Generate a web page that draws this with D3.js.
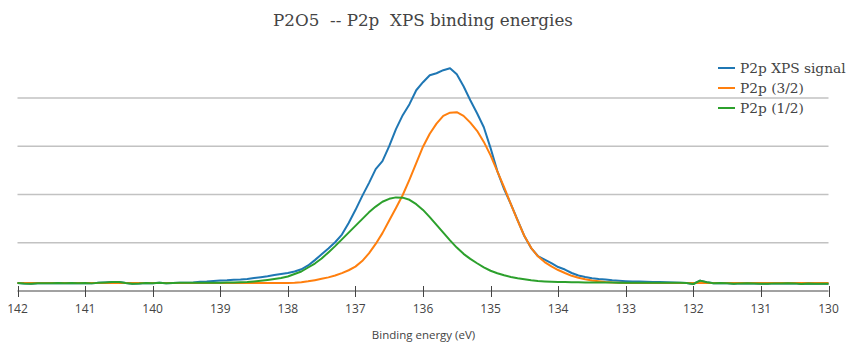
<!DOCTYPE html>
<html>
<head>
<meta charset="utf-8">
<script src="https://cdn.jsdelivr.net/npm/d3@7"></script>
<style>
  html, body { margin: 0; padding: 0; background: #fff; }
  svg { display: block; }
</style>
</head>
<body>
<svg id="chart" width="846" height="343"></svg>
<script>
// ---------------- data ----------------
const energies = [
  142.0,141.9,141.8,141.7,141.6,141.5,141.4,141.3,141.2,141.1,
  141.0,140.9,140.8,140.7,140.6,140.5,140.4,140.3,140.2,140.1,
  140.0,139.9,139.8,139.7,139.6,139.5,139.4,139.3,139.2,139.1,
  139.0,138.9,138.8,138.7,138.6,138.5,138.4,138.3,138.2,138.1,
  138.0,137.9,137.8,137.7,137.6,137.5,137.4,137.3,137.2,137.1,
  137.0,136.9,136.8,136.7,136.6,136.5,136.4,136.3,136.2,136.1,
  136.0,135.9,135.8,135.7,135.6,135.5,135.4,135.3,135.2,135.1,
  135.0,134.9,134.8,134.7,134.6,134.5,134.4,134.3,134.2,134.1,
  134.0,133.9,133.8,133.7,133.6,133.5,133.4,133.3,133.2,133.1,
  133.0,132.9,132.8,132.7,132.6,132.5,132.4,132.3,132.2,132.1,
  132.0,131.9,131.8,131.7,131.6,131.5,131.4,131.3,131.2,131.1,
  131.0,130.9,130.8,130.7,130.6,130.5,130.4,130.3,130.2,130.1,
  130.0
];

const signal = [
  0.165,0.155,0.150,0.160,0.162,0.160,0.165,0.162,0.168,0.160,
  0.165,0.158,0.170,0.178,0.185,0.188,0.165,0.150,0.155,0.165,
  0.162,0.170,0.160,0.165,0.170,0.172,0.178,0.190,0.195,0.205,
  0.217,0.221,0.232,0.238,0.248,0.269,0.286,0.306,0.331,0.352,
  0.373,0.404,0.450,0.530,0.640,0.760,0.880,1.010,1.170,1.410,
  1.677,1.967,2.236,2.526,2.692,3.002,3.354,3.644,3.872,4.161,
  4.327,4.472,4.513,4.576,4.617,4.493,4.244,3.954,3.685,3.395,
  2.961,2.484,2.112,1.801,1.470,1.139,0.890,0.725,0.652,0.580,
  0.497,0.445,0.373,0.321,0.290,0.263,0.248,0.238,0.222,0.211,
  0.203,0.198,0.195,0.190,0.188,0.186,0.182,0.178,0.170,0.165,
  0.145,0.215,0.180,0.160,0.165,0.160,0.148,0.158,0.162,0.155,
  0.150,0.148,0.158,0.155,0.162,0.158,0.145,0.155,0.152,0.150,
  0.148
];

const p32 = [
  0.165,0.165,0.165,0.165,0.165,0.165,0.165,0.165,0.165,0.165,
  0.165,0.165,0.165,0.165,0.165,0.165,0.165,0.165,0.165,0.165,
  0.165,0.165,0.165,0.165,0.165,0.165,0.165,0.165,0.165,0.165,
  0.165,0.165,0.165,0.166,0.166,0.166,0.166,0.166,0.166,0.166,
  0.166,0.172,0.182,0.200,0.225,0.252,0.282,0.320,0.370,0.430,
  0.505,0.620,0.780,0.975,1.200,1.460,1.720,1.990,2.310,2.650,
  2.990,3.260,3.470,3.630,3.695,3.706,3.630,3.490,3.320,3.090,
  2.810,2.480,2.150,1.800,1.460,1.140,0.895,0.720,0.600,0.510,
  0.435,0.373,0.315,0.273,0.242,0.217,0.201,0.186,0.176,0.170,
  0.166,0.165,0.165,0.165,0.165,0.165,0.165,0.165,0.165,0.165,
  0.165,0.165,0.165,0.165,0.165,0.165,0.165,0.165,0.165,0.165,
  0.165,0.165,0.165,0.165,0.165,0.165,0.165,0.165,0.165,0.165,
  0.165
];

const p12 = [
  0.165,0.155,0.150,0.160,0.162,0.160,0.165,0.162,0.168,0.160,
  0.165,0.158,0.170,0.178,0.185,0.188,0.165,0.150,0.155,0.165,
  0.162,0.170,0.160,0.165,0.170,0.170,0.171,0.172,0.172,0.173,
  0.173,0.174,0.178,0.182,0.186,0.197,0.211,0.228,0.248,0.269,
  0.300,0.352,0.404,0.487,0.569,0.673,0.800,0.930,1.070,1.210,
  1.350,1.490,1.630,1.750,1.850,1.910,1.940,1.935,1.890,1.800,
  1.680,1.530,1.370,1.210,1.050,0.900,0.770,0.665,0.575,0.490,
  0.420,0.369,0.325,0.290,0.263,0.242,0.222,0.207,0.197,0.190,
  0.186,0.184,0.182,0.180,0.178,0.177,0.176,0.175,0.174,0.173,
  0.172,0.172,0.171,0.170,0.170,0.170,0.170,0.172,0.170,0.165,
  0.145,0.215,0.180,0.160,0.165,0.160,0.148,0.158,0.162,0.155,
  0.150,0.148,0.158,0.155,0.162,0.158,0.145,0.155,0.152,0.150,
  0.148
];

const seriesNames = ["P2p XPS signal", "P2p (3/2)", "P2p (1/2)"];
const seriesColors = ["#1f77b4", "#ff7f0e", "#2ca02c"];
const xTicks = [142, 141, 140, 139, 138, 137, 136, 135, 134, 133, 132, 131, 130];
const yGrid = [1, 2, 3, 4];
const titleText = "P2O5  -- P2p  XPS binding energies";
const xTitle = "Binding energy (eV)";

// ---------------- drawing ----------------
const svg = d3.select("#chart");
const plot = { left: 17.5, right: 828.5, top: 60, bottom: 291 };

const x = d3.scaleLinear().domain([142, 130]).range([plot.left, plot.right]);
const y = d3.scaleLinear().domain([0, 4]).range([plot.bottom, 98]);

// gridlines
svg.append("g").selectAll("line").data(yGrid).join("line")
  .attr("x1", plot.left).attr("x2", plot.right)
  .attr("y1", d => y(d)).attr("y2", d => y(d))
  .attr("stroke", "#c2c2c2").attr("stroke-width", 1.5);

// series
const seriesData = [signal, p32, p12];
const line = d3.line().x(d => x(d[0])).y(d => y(d[1]));
const gLines = svg.append("g");
seriesData.forEach((vals, i) => {
  const pts = energies.map((e, j) => [e, vals[j]]);
  gLines.append("path").datum(pts)
    .attr("fill", "none").attr("stroke", seriesColors[i])
    .attr("stroke-width", 2).attr("stroke-linejoin", "round")
    .attr("d", line);
});

// x axis
const axisG = svg.append("g").attr("transform", `translate(0,${plot.bottom})`);
axisG.append("line").attr("x1", plot.left).attr("x2", plot.right)
  .attr("y1", 0).attr("y2", 0).attr("stroke", "#444").attr("stroke-width", 1);
axisG.selectAll("line.tick").data(xTicks).join("line").attr("class", "tick")
  .attr("x1", d => Math.round(x(d)) + 0.5).attr("x2", d => Math.round(x(d)) + 0.5)
  .attr("y1", -5).attr("y2", 6).attr("stroke", "#444").attr("stroke-width", 1);
axisG.selectAll("text").data(xTicks).join("text")
  .attr("x", d => x(d)).attr("y", 22)
  .attr("text-anchor", "middle")
  .attr("font-family", "'Open Sans', sans-serif").attr("font-size", 12)
  .attr("fill", "#444").text(d => d);

svg.append("text").attr("x", 423.5).attr("y", 339)
  .attr("text-anchor", "middle")
  .attr("font-family", "'Open Sans', sans-serif").attr("font-size", 11.5)
  .attr("fill", "#444").text(xTitle);

// title
const title = svg.append("text").attr("x", 423).attr("y", 26)
  .attr("text-anchor", "middle").style("white-space", "pre")
  .attr("font-family", "'DejaVu Serif', serif").attr("font-size", 16)
  .attr("fill", "#444").text(titleText);
const tw = title.node().getComputedTextLength();
title.attr("font-size", 16 * 300 / tw);

// legend
const leg = svg.append("g");
const rows = [68, 88, 108];
seriesNames.forEach((name, i) => {
  leg.append("line").attr("x1", 718).attr("x2", 735)
    .attr("y1", rows[i]).attr("y2", rows[i])
    .attr("stroke", seriesColors[i]).attr("stroke-width", 2);
  leg.append("text").attr("class", "legtxt").attr("x", 740).attr("y", rows[i] + 4.5)
    .attr("font-family", "'DejaVu Serif', serif").attr("font-size", 13)
    .attr("fill", "#444").text(name);
});
const probe = leg.selectAll("text.legtxt").nodes()[1];
const lw = probe.getComputedTextLength();
leg.selectAll("text.legtxt").attr("font-size", 13 * 64 / lw);
</script>
</body>
</html>
